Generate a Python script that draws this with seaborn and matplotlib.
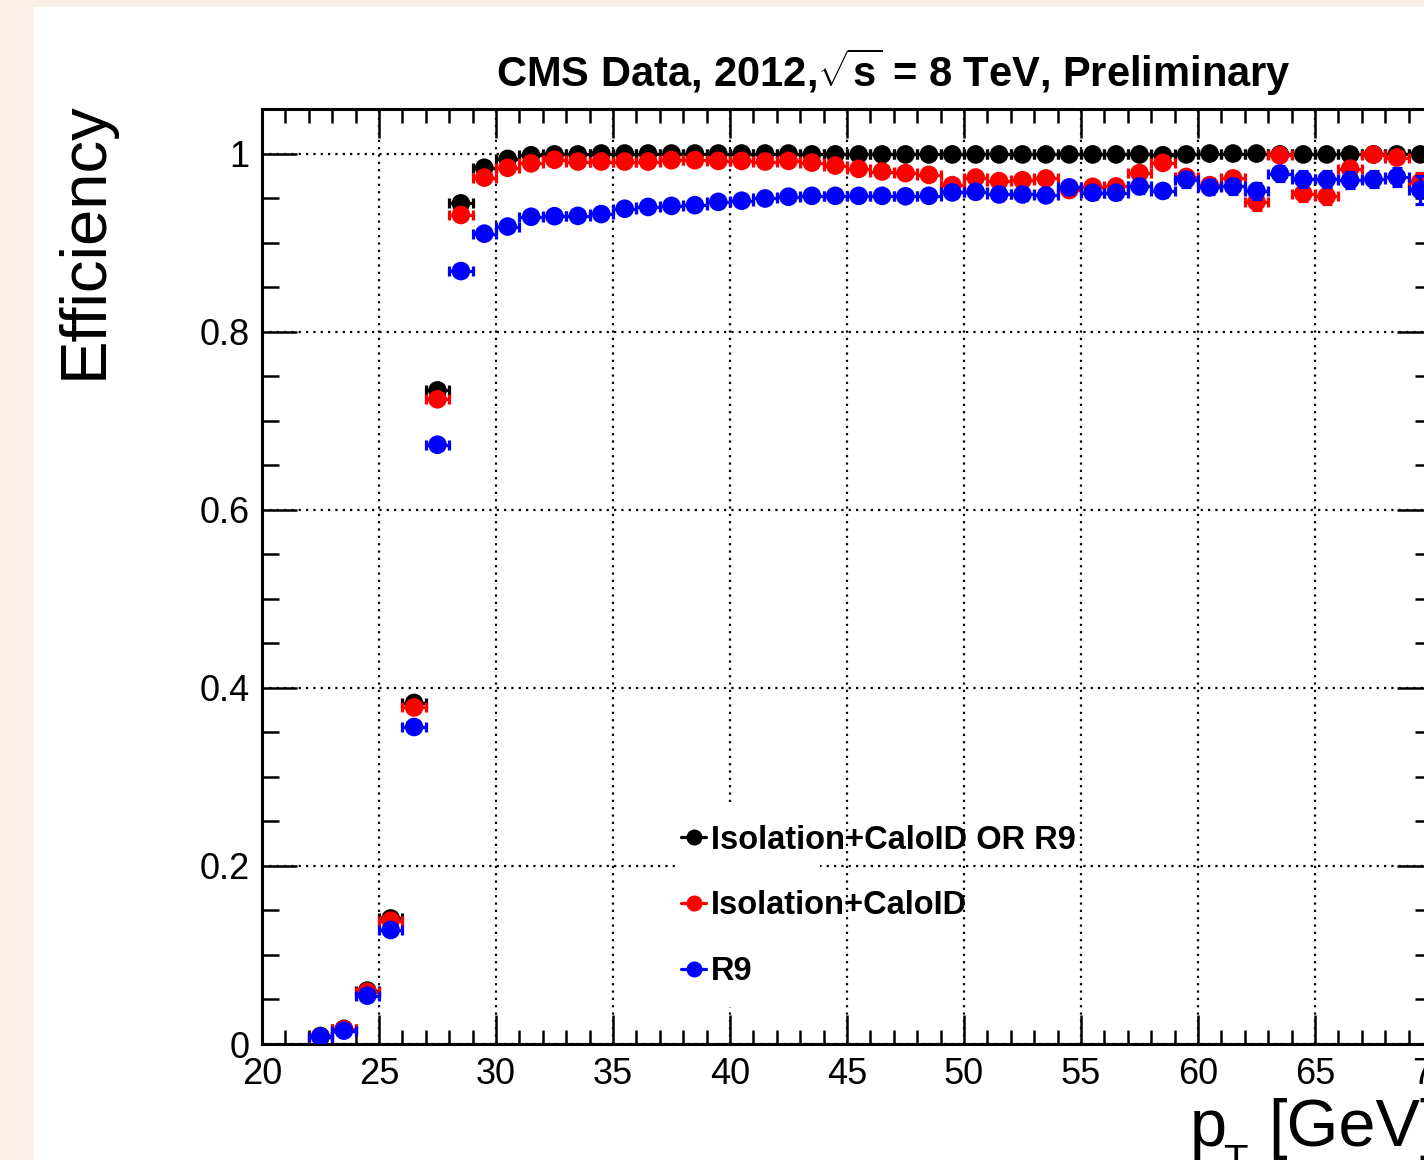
import numpy as np
import pandas as pd
import matplotlib
matplotlib.use("Agg")
import matplotlib.pyplot as plt
from matplotlib.patches import Rectangle
from matplotlib.lines import Line2D
from matplotlib.ticker import MultipleLocator, FixedLocator, FuncFormatter
import seaborn as sns

# photon pT bin centres [GeV] (1 GeV bins)
pt_centers = [22.5, 23.5, 24.5, 25.5, 26.5, 27.5, 28.5, 29.5, 30.5, 31.5,
              32.5, 33.5, 34.5, 35.5, 36.5, 37.5, 38.5, 39.5, 40.5, 41.5,
              42.5, 43.5, 44.5, 45.5, 46.5, 47.5, 48.5, 49.5, 50.5, 51.5,
              52.5, 53.5, 54.5, 55.5, 56.5, 57.5, 58.5, 59.5, 60.5, 61.5,
              62.5, 63.5, 64.5, 65.5, 66.5, 67.5, 68.5, 69.5]
bin_half_width = 0.5

eff_or = [0.009, 0.017, 0.060, 0.141, 0.383, 0.734, 0.944, 0.984, 0.994, 0.998,
          0.999, 0.999, 1.000, 1.000, 1.000, 1.000, 1.000, 1.000, 1.000, 1.000,
          1.000, 0.999, 0.999, 0.999, 0.999, 0.999, 0.999, 0.999, 0.999, 0.999,
          0.999, 0.999, 0.999, 0.999, 0.999, 0.999, 0.998, 0.999, 1.000, 1.000,
          1.000, 0.999, 0.999, 0.999, 0.999, 0.999, 0.999, 0.999]
err_or = [0.001] * 48

eff_iso = [0.008, 0.0165, 0.0587, 0.1385, 0.378, 0.724, 0.931, 0.973, 0.984, 0.989,
           0.993, 0.991, 0.991, 0.991, 0.991, 0.9925, 0.9925, 0.9917, 0.9917, 0.991,
           0.9917, 0.9898, 0.9865, 0.9828, 0.9798, 0.978, 0.976, 0.9645, 0.973, 0.969,
           0.970, 0.972, 0.959, 0.9626, 0.963, 0.978, 0.9895, 0.9737, 0.9645, 0.972,
           0.9457, 0.998, 0.955, 0.952, 0.983, 0.9989, 0.9955, 0.968]
err_iso = [0.002, 0.002, 0.002, 0.003, 0.004, 0.004, 0.003, 0.002, 0.002, 0.002,
           0.002, 0.002, 0.002, 0.002, 0.002, 0.002, 0.002, 0.002, 0.002, 0.002,
           0.002, 0.003, 0.003, 0.003, 0.003, 0.004, 0.004, 0.004, 0.004, 0.005,
           0.005, 0.005, 0.006, 0.006, 0.006, 0.006, 0.005, 0.007, 0.007, 0.007,
           0.009, 0.004, 0.008, 0.009, 0.008, 0.004, 0.006, 0.010]

eff_r9 = [0.0082, 0.015, 0.0543, 0.128, 0.356, 0.673, 0.868, 0.910, 0.918, 0.929,
          0.9296, 0.930, 0.932, 0.938, 0.940, 0.9412, 0.942, 0.9457, 0.947, 0.9495,
          0.9515, 0.9525, 0.9525, 0.9525, 0.9525, 0.952, 0.9525, 0.9563, 0.957, 0.954,
          0.954, 0.953, 0.962, 0.956, 0.956, 0.963, 0.958, 0.9708, 0.962, 0.963,
          0.958, 0.9775, 0.971, 0.971, 0.970, 0.971, 0.9737, 0.959]
err_r9 = [0.002, 0.002, 0.002, 0.003, 0.004, 0.004, 0.004, 0.003, 0.003, 0.003,
          0.003, 0.003, 0.003, 0.003, 0.003, 0.003, 0.003, 0.003, 0.003, 0.003,
          0.003, 0.004, 0.004, 0.004, 0.004, 0.005, 0.005, 0.005, 0.005, 0.006,
          0.006, 0.006, 0.007, 0.007, 0.007, 0.007, 0.007, 0.008, 0.008, 0.008,
          0.009, 0.008, 0.009, 0.009, 0.009, 0.009, 0.010, 0.016]

series_labels = ["Isolation+CaloID OR R9", "Isolation+CaloID", "R9"]
series_colors = ["black", "red", "blue"]

y_ticks = [0, 0.2, 0.4, 0.6, 0.8, 1.0]
x_ticks = [20, 25, 30, 35, 40, 45, 50, 55, 60, 65, 70]

rows = []
for lab, eff, err in zip(series_labels, [eff_or, eff_iso, eff_r9], [err_or, err_iso, err_r9]):
    for p, e, s in zip(pt_centers, eff, err):
        rows.append({"pt": p, "eff": e, "err": s, "selection": lab})
df = pd.DataFrame(rows)

sns.set_theme(style="ticks")
plt.rcParams["font.family"] = ["Liberation Sans", "DejaVu Sans"]
plt.rcParams["mathtext.fontset"] = "custom"
plt.rcParams["mathtext.rm"] = "Liberation Sans"
plt.rcParams["mathtext.it"] = "Liberation Sans:italic"
plt.rcParams["mathtext.bf"] = "Liberation Sans:bold"
plt.rcParams["text.color"] = "black"
plt.rcParams["axes.labelcolor"] = "black"
plt.rcParams["xtick.color"] = "black"
plt.rcParams["ytick.color"] = "black"

fig = plt.figure(figsize=(14.24, 11.6), dpi=100, facecolor="#fcefe7")
fig.add_artist(Rectangle((34 / 1424, 0), 1.0, (1160 - 7) / 1160,
                         transform=fig.transFigure, facecolor="white",
                         edgecolor="none", zorder=0))

ax = fig.add_axes([262 / 1424, 0.1, 1170 / 1424, 935 / 1160])
ax.set_facecolor("white")

for i, (lab, col) in enumerate(zip(series_labels, series_colors)):
    d = df[df["selection"] == lab]
    ax.errorbar(d["pt"], d["eff"], xerr=bin_half_width, yerr=d["err"], fmt="none",
                ecolor=col, elinewidth=2.3, capsize=3.5, capthick=2.3, zorder=3 + i)
    sns.scatterplot(data=d, x="pt", y="eff", color=col, s=180, edgecolor="none",
                    linewidth=0, legend=False, ax=ax, zorder=3.5 + i)

ax.set_xlim(20, 70)
ax.set_ylim(0, 1.05)
ax.xaxis.set_major_locator(FixedLocator(x_ticks))
ax.xaxis.set_minor_locator(MultipleLocator(1))
ax.yaxis.set_major_locator(FixedLocator(y_ticks))
ax.yaxis.set_minor_locator(MultipleLocator(0.05))
ax.yaxis.set_major_formatter(FuncFormatter(lambda v, p: "%g" % v))
ax.set_xlabel("")
ax.set_ylabel("")

ax.set_axisbelow("line")
ax.grid(True, which="major", color="black", linestyle=(0, (1, 2.3)), linewidth=1.6)

ax.tick_params(axis="both", which="both", direction="in", top=True, right=True,
               colors="black", labelcolor="black", width=1.8, labelsize=26)
ax.tick_params(axis="x", which="major", length=21, pad=9)
ax.tick_params(axis="x", which="minor", length=10)
ax.tick_params(axis="y", which="major", length=25, pad=9)
ax.tick_params(axis="y", which="minor", length=12)
for sp in ax.spines.values():
    sp.set_visible(True)
    sp.set_color("black")
    sp.set_linewidth(2.2)

# white legend pad (covers the grid only in this area)
ax.add_patch(Rectangle((0.353, 0.0396), 0.124, 0.218, transform=ax.transAxes,
                       facecolor="white", edgecolor="none", zorder=1.6))

handles = [Line2D([], [], color=c, marker="o", markersize=10.5, linewidth=2.3)
           for c in series_colors]
ax.legend(handles, series_labels, loc="center left",
          bbox_to_anchor=(681 / 1424, (1160 - 906) / 1160),
          bbox_transform=fig.transFigure, frameon=False,
          prop={"weight": "bold", "size": 23.5}, handlelength=0.78,
          handletextpad=0.15, labelspacing=1.07, borderpad=0, borderaxespad=0)

fig.text(893 / 1424, (1160 - 87) / 1160,
         r"CMS Data, 2012,$\sqrt{\mathbf{s}}$ = 8 TeV, Preliminary",
         ha="center", va="baseline", fontsize=30, fontweight="bold")
fig.text(85 / 1424, (1160 - 101) / 1160, "Efficiency", rotation=90,
         ha="center", va="top", fontsize=47)
# x-axis title: p, lowered subscript T, [GeV]
fig.text(1190 / 1424, (1160 - 1146) / 1160, "p",
         ha="left", va="baseline", fontsize=48)
fig.text(1223 / 1424, (1160 - 1173) / 1160, "T",
         ha="left", va="baseline", fontsize=29)
fig.text(1268 / 1424, (1160 - 1146) / 1160, "[GeV]",
         ha="left", va="baseline", fontsize=48)

fig.savefig("out.png", dpi=100, facecolor=fig.get_facecolor())
